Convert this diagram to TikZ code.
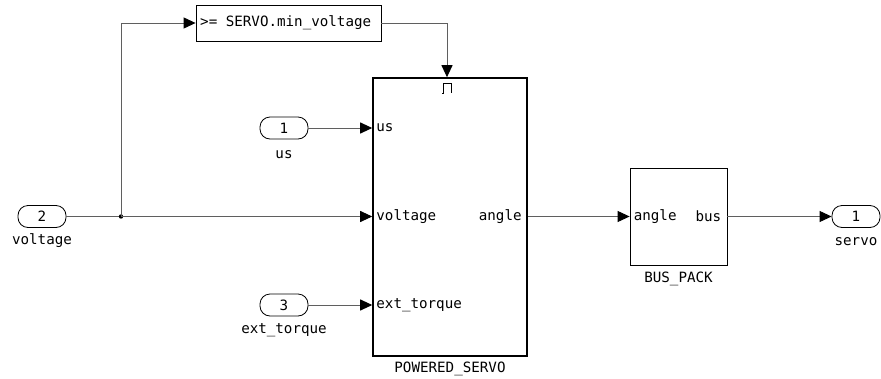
\documentclass[tikz,border=0pt]{standalone}
\usepackage{fontspec}
\setmonofont{DejaVu Sans Mono}
\usetikzlibrary{arrows.meta,calc}
\definecolor{wire}{RGB}{95,95,95}
\begin{document}
\begin{tikzpicture}[x=1pt,y=-1pt,
  every node/.style={font=\ttfamily\fontsize{14.2}{16}\selectfont, inner sep=0pt},
  pill/.style={draw=black, line width=0.8pt, rounded corners=10pt, minimum width=48pt, minimum height=22pt},
  blk/.style={draw=black, line width=0.8pt},
  bigblk/.style={draw=black, line width=1.6pt},
  wirel/.style={draw=wire, line width=1pt},
  sig/.style={wirel, -{Triangle[length=12pt,width=11pt,color=black]}},
  lbl/.style={text=black}
]
\useasboundingbox (0,0) rectangle (881,378);

% inports/outports
\node[pill] (v2) at (42,216.5) {2};
\node[lbl] (v2l) at (42,241) {voltage};
\node[pill] (u1) at (284,128) {1};
\node[lbl] (u1l) at (284,155) {us};
\node[pill] (t3) at (284,305) {3};
\node[lbl] (t3l) at (284,330) {ext\_torque};
\node[pill] (o1) at (856,216.5) {1};
\node[lbl] (o1l) at (856,242) {servo};

% blocks
\node[bigblk, minimum width=154pt, minimum height=278pt] (ps) at (450,217) {};
\node[lbl] (psl) at (450,369) {POWERED\_SERVO};
\node[blk, minimum width=97pt, minimum height=97pt] (bp) at (678.5,216.5) {};
\node[lbl] (bpl) at (678.5,279) {BUS\_PACK};
\node[blk, minimum width=185pt, minimum height=36pt] (cmp) at (288.5,23) {};
\node[lbl, anchor=west] (cmpt) at (200,23) {>= SERVO.min\_voltage};

% port labels
\node[lbl, anchor=west] (pus) at ($(ps.west |- u1)+(4,0)$) {us};
\node[lbl, anchor=west] (pvolt) at ($(ps.west |- v2)+(4,0)$) {voltage};
\node[lbl, anchor=west] (ptq) at ($(ps.west |- t3)+(4,0)$) {ext\_torque};
\node[lbl, anchor=east] (pang) at ($(ps.east |- v2)+(-6,0)$) {angle};
\node[lbl, anchor=west] (bang) at ($(bp.west |- v2)+(4,0)$) {angle};
\node[lbl, anchor=east] (bbus) at ($(bp.east |- v2)+(-6,0)$) {bus};

% trigger symbol
\draw[black, line width=0.8pt] (442,93) -- (443,93) -- (443,83) -- (451,83) -- (451,93);

% connectors
\coordinate (j) at (121,216.5);
\coordinate (jt) at (121,23);
\coordinate (tr) at (447,23);
\draw[wirel] (v2.east) -- (j);
\fill[black] (j) circle (2.2pt);
\draw[sig] (j) -- (ps.west |- j);
\draw[sig] (j) -- (jt) -- (cmp.west);
\draw[sig] (cmp.east) -- (tr) -- (tr |- ps.north);
\draw[sig] (u1.east) -- (ps.west |- u1);
\draw[sig] (t3.east) -- (ps.west |- t3);
\draw[sig] (ps.east |- j) -- (bp.west |- j);
\draw[sig] (bp.east |- j) -- (o1.west);
\end{tikzpicture}
\end{document}
